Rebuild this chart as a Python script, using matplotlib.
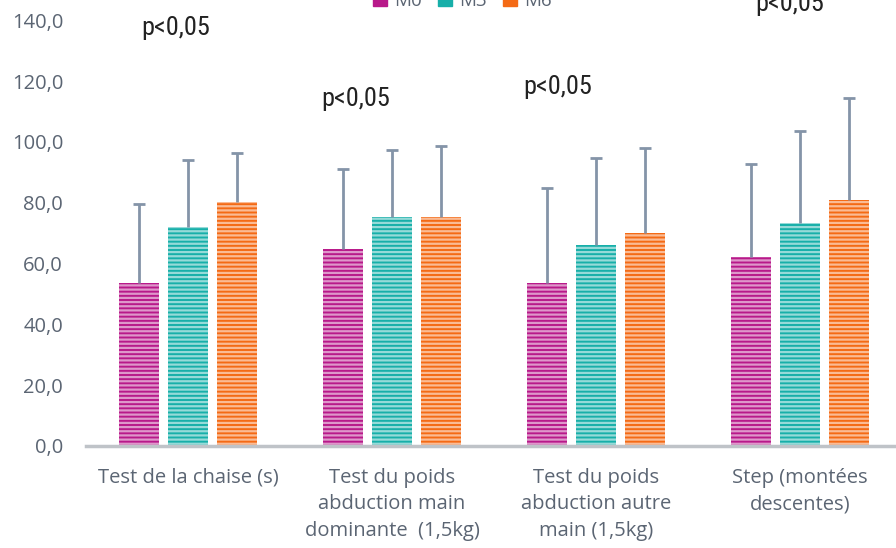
import matplotlib
matplotlib.use("Agg")
import matplotlib.pyplot as plt
from matplotlib import font_manager
import numpy as np

plt.rcParams['hatch.linewidth'] = 1.6

categories = ["Test de la chaise (s)",
              "Test du poids\nabduction main\ndominante  (1,5kg)",
              "Test du poids\nabduction autre\nmain (1,5kg)",
              "Step (montées\ndescentes)"]
series = ["M0", "M3", "M6"]
means = {
    "M0": [53.6, 64.8, 53.6, 62.2],
    "M3": [72.0, 75.3, 66.1, 73.4],
    "M6": [80.3, 75.3, 70.1, 80.9],
}
upper_err = {
    "M0": [26.0, 26.3, 31.3, 30.6],
    "M3": [22.0, 22.1, 28.6, 30.2],
    "M6": [16.1, 23.4, 27.9, 33.6],
}
colors = {"M0": "#B8198A", "M3": "#17AFA9", "M6": "#F46A15"}
yticks = [0, 20, 40, 60, 80, 100, 120, 140]
p_labels = ["p<0,05", "p<0,05", "p<0,05", "p<0,05"]
p_pos = [(-0.06, 137.5), (0.82, 114.0), (1.81, 118.0), (2.95, 145.5)]

text_color = "#5B6573"
font = ["Open Sans", "DejaVu Sans"]

# pick a narrow face for the significance notes if one is available
names = {f.name for f in font_manager.fontManager.ttflist}
narrow = [n for n in ["Liberation Sans Narrow", "DejaVu Sans Condensed",
                      "Roboto Condensed", "Open Sans Condensed"] if n in names]
p_family = narrow + ["DejaVu Sans"]

fig = plt.figure(figsize=(8.96, 5.48), dpi=100)
ax = fig.add_axes([86 / 896, 102 / 548, 816 / 896, 486.4 / 548])

x = np.arange(len(categories))
width = 0.196
offsets = [-0.24, 0.0, 0.24]
for s, off in zip(series, offsets):
    ax.bar(x + off, means[s], width, color=colors[s],
           edgecolor=(1, 1, 1, 0.55), linewidth=0, hatch="----", zorder=2)
    _, caps, _ = ax.errorbar(x + off, means[s],
                             yerr=[np.zeros(len(x)), upper_err[s]],
                             fmt="none", ecolor="#8494A8", elinewidth=2,
                             capsize=4.5, capthick=2, zorder=3)
    # keep only the upper caps
    for c in caps:
        if np.allclose(c.get_ydata(), means[s]):
            c.set_visible(False)

ax.set_xlim(-0.5, 3.5)
ax.set_ylim(0, 160)
ax.set_yticks(yticks)
ax.set_yticklabels([f"{v:.1f}".replace(".", ",") for v in yticks],
                   fontsize=14.5, color=text_color, family=font)
ax.set_xticks(x)
ax.set_xticklabels(categories, fontsize=14.5, color=text_color, family=font,
                   linespacing=1.45, va="top")
ax.tick_params(axis="both", length=0)
ax.tick_params(axis="x", pad=15.5)
ax.tick_params(axis="y", pad=16.5)
for side in ["top", "right", "left"]:
    ax.spines[side].set_visible(False)
ax.spines["bottom"].set_color("#BFC3C8")
ax.spines["bottom"].set_linewidth(2.5)

for txt, (px, py) in zip(p_labels, p_pos):
    ax.text(px, py, txt, ha="center", va="center", fontsize=19,
            family=p_family, fontstretch="condensed", color="#222222")

handles = [plt.Rectangle((0, 0), 1, 1, color=colors[s]) for s in series]
fig.legend(handles, series, loc="center", bbox_to_anchor=(0.516, 0.999),
           ncol=3, frameon=False, handlelength=0.75, handleheight=0.75,
           columnspacing=0.9, handletextpad=0.35,
           prop={"family": font, "size": 13.5}, labelcolor=text_color)

fig.savefig("out.png", dpi=100)
